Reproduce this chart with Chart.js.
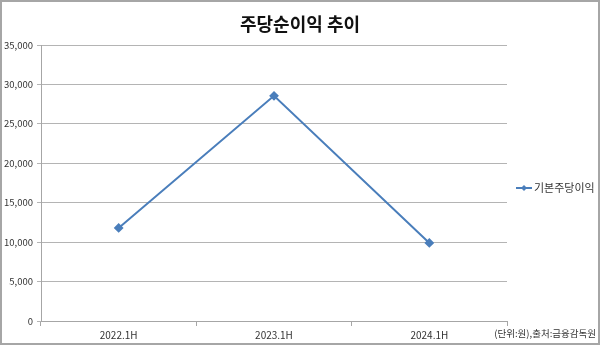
<!DOCTYPE html>
<html>
<head>
<meta charset="utf-8">
<script src="https://cdn.jsdelivr.net/npm/chart.js@4"></script>
<style>
  body { margin: 0; background: #fff; }
  #wrap { width: 600px; height: 345px; }
</style>
</head>
<body>
<div id="wrap"><canvas id="grafico" width="600" height="345"></canvas></div>
<script>
// datos del gráfico
const titulo = '주당순이익 추이';
const periodos = ['2022.1H', '2023.1H', '2024.1H'];
const serieNombre = '기본주당이익';
const serieValores = [11800, 28550, 9900];
const fuente = '(단위:원),출처:금융감독원';

const fuenteKR = '"Noto Sans CJK KR", "Noto Sans", sans-serif';
const azul = '#4a7ebb';

// plugin para titulo, leyenda, nota y borde
const extras = {
    id: 'extras',
    afterDraw(chart) {
        const ctx = chart.ctx;
        ctx.save();
        // borde exterior
        ctx.strokeStyle = '#a6a6a6';
        ctx.lineWidth = 2;
        ctx.strokeRect(1, 1, 598, 343);

        // titulo
        ctx.fillStyle = '#111';
        ctx.font = 'bold 18px ' + fuenteKR;
        ctx.textAlign = 'center';
        ctx.textBaseline = 'middle';
        ctx.fillText(titulo, 300, 24);

        // leyenda
        const ly = 188;
        ctx.strokeStyle = azul;
        ctx.lineWidth = 2;
        ctx.beginPath();
        ctx.moveTo(516, ly);
        ctx.lineTo(532, ly);
        ctx.stroke();
        ctx.fillStyle = azul;
        ctx.beginPath();
        ctx.moveTo(524, ly - 3);
        ctx.lineTo(527, ly);
        ctx.lineTo(524, ly + 3);
        ctx.lineTo(521, ly);
        ctx.closePath();
        ctx.fill();
        ctx.fillStyle = '#333';
        ctx.font = '11px ' + fuenteKR;
        ctx.textAlign = 'left';
        ctx.fillText(serieNombre, 534, ly);

        // fuente
        ctx.font = '9.5px ' + fuenteKR;
        ctx.textAlign = 'right';
        ctx.fillStyle = '#333';
        ctx.fillText(fuente, 596, 333);
        ctx.restore();
    }
};

new Chart(document.getElementById('grafico'), {
    type: 'line',
    data: {
        labels: periodos,
        datasets: [{
            label: serieNombre,
            data: serieValores,
            borderColor: azul,
            backgroundColor: azul,
            borderWidth: 2,
            pointStyle: 'rectRot',
            pointRadius: 3.5,
            pointHoverRadius: 3.5,
            tension: 0
        }]
    },
    options: {
        responsive: false,
        animation: false,
        layout: { padding: { top: 45, right: 93, left: 0, bottom: 0 } },
        plugins: {
            legend: { display: false },
            title: { display: false },
            tooltip: { enabled: false }
        },
        scales: {
            x: {
                offset: true,
                grid: {
                    offset: true,
                    drawOnChartArea: false,
                    color: '#a6a6a6',
                    tickLength: 5
                },
                border: { color: '#a6a6a6' },
                ticks: {
                    color: '#333',
                    font: { family: fuenteKR, size: 10 },
                    padding: 3
                },
                afterFit(scale) { scale.height = 24; }
            },
            y: {
                min: 0,
                max: 35000,
                ticks: {
                    stepSize: 5000,
                    color: '#333',
                    font: { family: fuenteKR, size: 9.5 },
                    padding: 4,
                    callback: v => v.toLocaleString('en-US')
                },
                grid: { color: '#b4b4b4', tickLength: 4 },
                border: { color: '#a6a6a6' },
                afterFit(scale) { scale.width = 41; }
            }
        }
    },
    plugins: [extras]
});
</script>
</body>
</html>
